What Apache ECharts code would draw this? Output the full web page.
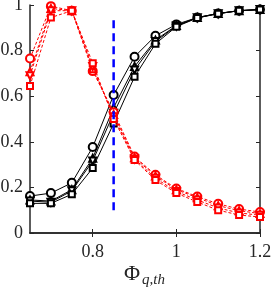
<!DOCTYPE html>
<html>
<head>
<meta charset="utf-8">
<script src="https://cdn.jsdelivr.net/npm/echarts@6/dist/echarts.min.js"></script>
<style>html,body{margin:0;padding:0;background:#fff}#c{width:275px;height:287px}</style>
</head>
<body>
<div id="c"></div>
<script>
const xs = [0.65,0.7,0.75,0.8,0.85,0.9,0.95,1.0,1.05,1.1,1.15,1.2];
const xTicks = [0.8, 1.0, 1.2];

const blackCircle = [0.162,0.175,0.22,0.377,0.605,0.773,0.865,0.915,0.945,0.963,0.975,0.98];
const blackTriUp  = [0.145,0.14,0.19,0.328,0.55,0.73,0.846,0.91,0.945,0.963,0.975,0.98];
const blackTriDn  = [0.14,0.135,0.185,0.316,0.525,0.715,0.84,0.908,0.944,0.962,0.975,0.98];
const blackSquare = [0.13,0.13,0.17,0.285,0.48,0.685,0.83,0.905,0.943,0.962,0.975,0.98];

const redCircle = [0.765,0.995,0.975,0.71,0.53,0.335,0.255,0.195,0.16,0.128,0.105,0.092];
const redTriUp  = [0.707,0.985,0.975,0.72,0.52,0.33,0.25,0.19,0.155,0.12,0.098,0.085];
const redTriDn  = [0.69,0.975,0.975,0.73,0.51,0.325,0.24,0.182,0.145,0.11,0.088,0.078];
const redSquare = [0.645,0.945,0.975,0.745,0.50,0.32,0.232,0.175,0.136,0.10,0.079,0.07];

const thresholdX = 0.85;
const thresholdY = [0.1, 0.955];

const xTitleMain = 'Φ';
const xTitleSub = 'q,th';

const pair = a => a.map((v,i)=>[xs[i], v]);
const font = 'Liberation Serif';

function mk(data, color, symbol, rot, dashed, size) {
  return {
    type: 'line', data: pair(data), symbol: symbol, symbolSize: size,
    symbolRotate: rot, animation: false, z: dashed ? 3 : 2,
    lineStyle: { color: color, width: 1, type: dashed ? [3,2] : 'solid' },
    itemStyle: { color: color, borderColor: color, borderWidth: 1 }
  };
}

const chart = echarts.init(document.getElementById('c'));
const axisLine = { show: true, lineStyle: { color: '#262626', width: 1.5 } };
chart.setOption({
  backgroundColor: '#fff',
  animation: false,
  grid: { left: 30, right: 15, top: 5, bottom: 54, containLabel: false, outerBoundsMode: 'none' },
  graphic: [
    { type: 'text', left: 124, top: 263, style: { text: xTitleMain, fontFamily: font, fontSize: 22, fill: '#262626' } },
    { type: 'text', left: 142, top: 273, style: { text: xTitleSub, fontFamily: font, fontStyle: 'italic', fontSize: 15, fill: '#262626' } }
  ],
  xAxis: [{
    type: 'value', min: 0.65, max: 1.2, position: 'bottom',
    axisLine: axisLine, splitLine: { show: false },
    axisTick: { inside: true, length: 4, customValues: xTicks, lineStyle: { color: '#262626', width: 1 } },
    axisLabel: { customValues: xTicks, color: '#262626', fontFamily: font, fontSize: 18, margin: 10,
      formatter: v => String(+v.toFixed(2)) }
  }, {
    type: 'value', min: 0.65, max: 1.2, position: 'top',
    axisLine: axisLine, splitLine: { show: false },
    axisTick: { inside: true, length: 4, customValues: xTicks, lineStyle: { color: '#262626', width: 1 } },
    axisLabel: { show: false }
  }],
  yAxis: [{
    type: 'value', min: 0, max: 1, interval: 0.2, position: 'left',
    axisLine: axisLine, splitLine: { show: false },
    axisTick: { inside: true, length: 4, lineStyle: { color: '#262626', width: 1 } },
    axisLabel: { color: '#262626', fontFamily: font, fontSize: 18, margin: 7 }
  }, {
    type: 'value', min: 0, max: 1, interval: 0.2, position: 'right',
    axisLine: axisLine, splitLine: { show: false },
    axisTick: { inside: true, length: 4, lineStyle: { color: '#262626', width: 1 } },
    axisLabel: { show: false }
  }],
  series: [
    mk(blackCircle, '#000', 'emptyCircle', 0, false, 8),
    mk(blackTriUp, '#000', 'emptyTriangle', 0, false, 7),
    mk(blackTriDn, '#000', 'emptyTriangle', 180, false, 7),
    mk(blackSquare, '#000', 'emptyRect', 0, false, 6),
    mk(redCircle, '#ff0000', 'emptyCircle', 0, true, 8),
    mk(redTriUp, '#ff0000', 'emptyTriangle', 0, true, 7),
    mk(redTriDn, '#ff0000', 'emptyTriangle', 180, true, 7),
    mk(redSquare, '#ff0000', 'emptyRect', 0, true, 6),
    {
      type: 'line', data: thresholdY.map(v => [thresholdX, v]), symbol: 'none', z: 5,
      lineStyle: { color: '#0000ff', width: 2.5, type: [8,5] }
    }
  ]
});
</script>
</body>
</html>
